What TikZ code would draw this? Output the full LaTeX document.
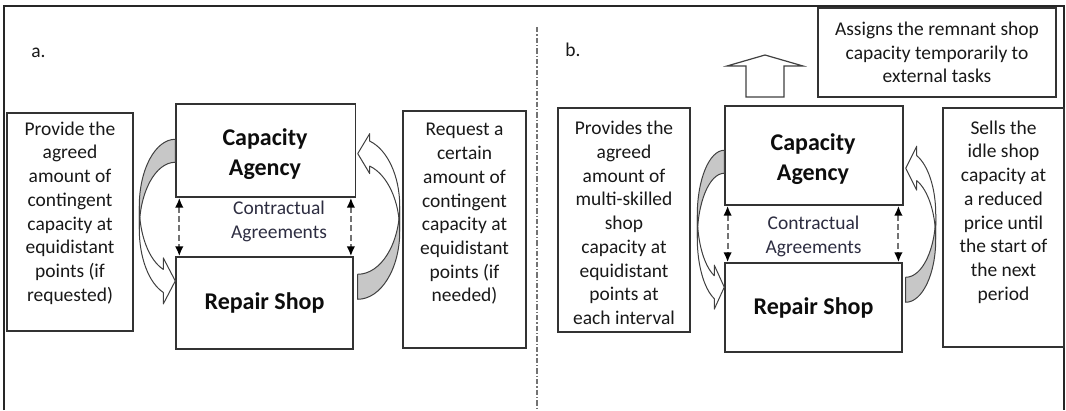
\documentclass[tikz,border=0pt]{standalone}
\usepackage{fontspec}
\setmainfont{Carlito}
\usetikzlibrary{arrows.meta,calc}

\tikzset{
  px/.style={x=0.75pt,y=-0.75pt},
  frame/.style={line width=1.4pt, draw=black!85},
  divider/.style={line width=0.8pt, draw=black!55, dash pattern=on 4pt off 1.5pt on 1pt off 1.5pt},
  box/.style={draw=black!80, line width=1.1pt, fill=white, inner sep=0pt, rectangle},
  body/.style={align=center, text=black!90, inner sep=0pt,
    font=\fontsize{14.6pt}{17.8pt}\selectfont},
  head/.style={align=center, text=black!95, inner sep=0pt,
    font=\bfseries\fontsize{18pt}{22pt}\selectfont},
  contract/.style={align=center, text={rgb,255:red,45;green,45;blue,65}, inner sep=0pt,
    font=\fontsize{14.6pt}{17.4pt}\selectfont},
  linktip/.tip={Latex[length=7.5pt,width=6.5pt,color=black]},
  link/.style={line width=1.5pt, draw=black!55, dash pattern=on 4.5pt off 2.5pt,
    linktip-linktip},
  ribbonline/.style={draw=black!75, line width=0.75pt, line join=round},
  ribbonback/.style={ribbonline, fill=black!22},
  ribbonfront/.style={ribbonline, fill=white},
  blockarrow/.style={draw=black!75, line width=0.9pt, fill=white, line join=miter},
}

% Curved ribbon arrow: starts at x=0, y=0 (band of thickness #3),
% bulges out to x=-#1, and ends in a head pointing back at x=0.
% #1 bulge, #2 half height of the ellipses, #3 band thickness,
% #4 inset of the head base, #5 half span of the head.
\newcommand{\ribbonarrow}[5]{%
  \pgfmathsetmacro{\rbW}{#1}%
  \pgfmathsetmacro{\rbH}{#2}%
  \pgfmathsetmacro{\rbT}{#3}%
  \pgfmathsetmacro{\rbX}{#4}%
  \pgfmathsetmacro{\rbA}{acos(-#4/#1)}%
  \pgfmathsetmacro{\rbN}{#2*(1+sin(\rbA))}%
  \pgfmathsetmacro{\rbTip}{\rbN+#3/2}%
  \path[ribbonback] (0,0) arc[start angle=270, end angle=180, x radius=\rbW, y radius=\rbH]
     -- ++(0,\rbT) arc[start angle=180, end angle=270, x radius=\rbW, y radius=\rbH] -- cycle;
  \path[ribbonfront] (-\rbW,\rbH) arc[start angle=180, end angle=\rbA, x radius=\rbW, y radius=\rbH]
     -- (-\rbX,\rbTip-#5) -- (0,\rbTip) -- (-\rbX,\rbTip+#5) -- (-\rbX,\rbN+\rbT)
     arc[start angle=\rbA, end angle=180, x radius=\rbW, y radius=\rbH] -- cycle;
}

\begin{document}
\begin{tikzpicture}[px]
\useasboundingbox (0,0) rectangle (1066,410);

% outer frame and the divider between the two panels
\draw[frame] (4,410) -- (4,6) -- (1064,6) -- (1064,410);
\draw[divider] (537,27) -- (537,410);

% ---------------- panel a ----------------
\node[body] (labA) at (38.5,53) {a.};

\node[box, minimum width=94.5pt, minimum height=163.5pt] (provA) at (70,222) {};
\node[body] (provAtxt) at (70,213) {Provide the\\agreed\\amount of\\contingent\\capacity at\\equidistant\\points (if\\requested)};

\node[box, minimum width=134.6pt, minimum height=69.75pt] (caA) at (265.75,150.5) {};
\node[head] (caAtxt) at (265,154) {Capacity\\Agency};
\node[box, head, minimum width=132.75pt, minimum height=69pt] (rsA) at (264.5,303) {Repair Shop};

\node[box, minimum width=92.25pt, minimum height=177.75pt] (reqA) at (464.5,229.5) {};
\node[body] (reqAtxt) at (464.5,214) {Request a\\certain\\amount of\\contingent\\capacity at\\equidistant\\points (if\\needed)};

\node[contract] (conA) at (279,221.5) {Contractual\\Agreements};

\draw[link] ([xshift=3pt]caA.south west) -- ([xshift=3pt]caA.south west |- rsA.north);
\draw[link] ([xshift=-4pt]caA.south east) -- ([xshift=-4pt]caA.south east |- rsA.north);

\begin{scope}[shift={($(caA.north west)+(0,36)$)}]
  \ribbonarrow{36}{67}{23}{12}{23}
\end{scope}
\begin{scope}[shift={($(rsA.north east)+(4,43)$)}, rotate=180]
  \ribbonarrow{42}{68}{25}{12}{20}
\end{scope}

% ---------------- panel b ----------------
\node[body] (labB) at (573,50) {b.};

\node[box, minimum width=99pt, minimum height=168pt] (provB) at (624,220) {};
\node[body] (provBtxt) at (624,223) {Provides the\\agreed\\amount of\\multi-skilled\\shop\\capacity at\\equidistant\\points at\\each interval};

\node[box, minimum width=133.5pt, minimum height=74.25pt] (caB) at (814,155.5) {};
\node[head] (caBtxt) at (813,159) {Capacity\\Agency};
\node[box, head, minimum width=132.75pt, minimum height=66.75pt] (rsB) at (813.5,307.5) {Repair Shop};

\node[box, minimum width=90.75pt, minimum height=179.25pt] (sellB) at (1003.5,227.5) {};
\node[body] (sellBtxt) at (1003.5,212) {Sells the\\idle shop\\capacity at\\a reduced\\price until\\the start of\\the next\\period};

\node[box, body, minimum width=178.5pt, minimum height=66.75pt] (assignB) at (937,52.5)
  {Assigns the remnant shop\\capacity temporarily to\\external tasks};

\node[contract] (conB) at (813.5,236.5) {Contractual\\Agreements};

\draw[link] ([xshift=2.5pt]caB.south west) -- ([xshift=2.5pt]caB.south west |- rsB.north);
\draw[link] ([xshift=-4pt]caB.south east) -- ([xshift=-4pt]caB.south east |- rsB.north);

\begin{scope}[shift={($(caB.north west)+(0,45)$)}]
  \ribbonarrow{27}{65}{23}{10}{22}
\end{scope}
\begin{scope}[shift={($(rsB.north east)+(3,40)$)}, rotate=180]
  \ribbonarrow{30}{63}{25}{11}{22}
\end{scope}

% hollow block arrow rising out of the agency
\path[blockarrow] (746,97) -- (746,66) -- (727,66) -- (765,55) -- (803,66)
  -- (784,66) -- (784,97) -- cycle;

\end{tikzpicture}
\end{document}
